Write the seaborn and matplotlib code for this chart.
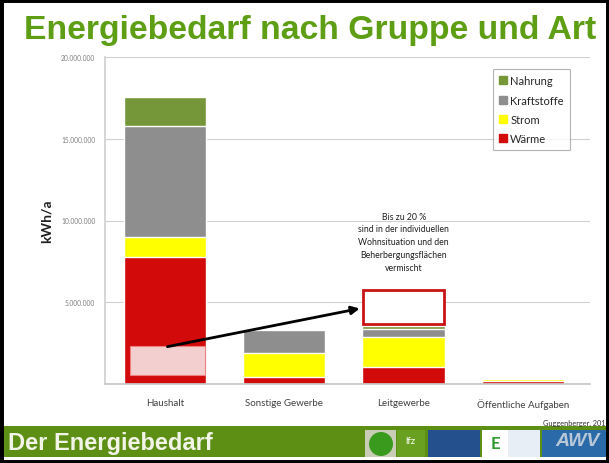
import matplotlib.pyplot as plt
import matplotlib.patches as mpatches
import seaborn as sns
import pandas as pd
import numpy as np

# data (kWh/a)
groups = ["Haushalt", "Sonstige Gewerbe", "Leitgewerbe", "Öffentliche Aufgaben"]
waerme = [7750000, 420000, 1050000, 170000]
strom = [1250000, 1480000, 1830000, 150000]
kraftstoffe = [6800000, 1400000, 480000, 20000]
nahrung = [1750000, 0, 180000, 30000]
yticks = [0, 5000000, 10000000, 15000000, 20000000]
ytick_labels = ["", "5.000.000", "10.000.000", "15.000.000", "20.000.000"]

df = pd.DataFrame({"Gruppe": groups, "Wärme": waerme, "Strom": strom,
                   "Kraftstoffe": kraftstoffe, "Nahrung": nahrung})
layers = ["Wärme", "Strom", "Kraftstoffe", "Nahrung"]
colors = {"Wärme": "#d20a0a", "Strom": "#ffff00", "Kraftstoffe": "#8e8e8e", "Nahrung": "#76963a"}
cum = df[layers].cumsum(axis=1)

sns.set_theme(style="white")
plt.rcParams["font.family"] = ["Lato", "DejaVu Sans"]

W, H = 609, 464
fig = plt.figure(figsize=(W / 100, H / 100), dpi=100)
fig.patch.set_facecolor("white")

ax = fig.add_axes([105 / W, 1 - 385 / H, 485 / W, (385 - 58) / H])

# stacked bars: draw cumulative totals from top layer down
for layer in reversed(layers):
    sns.barplot(x=df["Gruppe"], y=cum[layer], color=colors[layer], width=0.69,
                saturation=1, ax=ax, label=layer, zorder=2)

ax.set_xlim(-0.5, 3.56)
ax.set_ylim(0, 20000000)
ax.set_yticks(yticks)
ax.set_yticklabels(ytick_labels, fontsize=4.8, color="#808080")
ax.yaxis.grid(True, color="#d0d0d0", lw=0.8, zorder=0)
ax.set_axisbelow(True)
for s in ["top", "right"]:
    ax.spines[s].set_visible(False)
ax.spines["left"].set_color("#d0d0d0")
ax.spines["bottom"].set_color("#c8c8c8")
ax.tick_params(axis="x", length=0, pad=10, labelsize=7, labelcolor="#404040")
ax.tick_params(axis="y", length=0, pad=7)
ax.set_xlabel("")
ax.set_ylabel("kWh/a", fontsize=10, fontweight="bold", color="#202020", labelpad=12)
ax.yaxis.set_label_coords(-0.108, 0.5)

# legend
handles = [mpatches.Patch(color=colors[l]) for l in ["Nahrung", "Kraftstoffe", "Strom", "Wärme"]]
leg = ax.legend(handles, ["Nahrung", "Kraftstoffe", "Strom", "Wärme"], loc="upper left",
                bbox_to_anchor=(388 / 485, 0.963), fontsize=8, frameon=True, fancybox=False,
                handlelength=0.7, handleheight=0.7, handletextpad=0.3, borderpad=0.55,
                labelspacing=0.75, borderaxespad=0, edgecolor="#a0a0a0")
leg.get_frame().set_linewidth(0.8)

# highlight boxes and arrow
ax.add_patch(mpatches.Rectangle((-0.29, 550000), 0.625, 1750000, facecolor="#f3cfcf",
                                edgecolor="#f08080", lw=0.8, zorder=3))
ax.add_patch(mpatches.Rectangle((1.66, 3660000), 0.68, 2070000, facecolor="white",
                                edgecolor="#c81414", lw=2, zorder=3))
ax.annotate("", xy=(1.655, 4650000), xytext=(0.0, 2250000),
            arrowprops=dict(arrowstyle="-|>", color="black", lw=2, mutation_scale=12), zorder=4)
ax.text(2.0, 10550000, "Bis zu 20 %\nsind in der individuellen\nWohnsituation und den\n"
        "Beherbergungsflächen\nvermischt", ha="center", va="top", fontsize=6.3,
        linespacing=1.55, color="#202020")

# slide decoration
fig.text(310 / W, 1 - 31 / H, "Energiebedarf nach Gruppe und Art", ha="center", va="center",
         fontsize=24.3, fontweight="bold", color="#5e9e14", family="Liberation Sans")
fig.text(543 / W, 1 - 423 / H, "Guggenberger, 201", ha="left", va="center", fontsize=5.3,
         color="#303030")
fig.patches.append(mpatches.Rectangle((3 / W, 1 - 458 / H), 606 / W, 31 / H,
                                      transform=fig.transFigure, facecolor="#5d8f15", lw=0))
fig.text(8 / W, 1 - 444 / H, "Der Energiebedarf", ha="left", va="center", fontsize=17,
         fontweight="bold", color="#f2f4e8", family="Liberation Sans")
for x0, x1, c in [(365, 396, "#c9cdb5"), (397, 425, "#6aa020"), (428, 480, "#24508e"),
                  (482, 508, "#ffffff"), (508, 540, "#e8eef6"), (542, 609, "#2a6aa8")]:
    fig.patches.append(mpatches.Rectangle((x0 / W, 1 - 458 / H), (x1 - x0) / W, 27 / H,
                                          transform=fig.transFigure, facecolor=c, lw=0))
fig.patches.append(mpatches.Ellipse((381 / W, 1 - 445 / H), 24 / W, 24 / H,
                                    transform=fig.transFigure, facecolor="#3a9a1e", lw=0))
fig.text(410 / W, 1 - 441 / H, "lfz", fontsize=7, color="white", ha="center", va="center")
fig.text(495 / W, 1 - 444 / H, "E", fontsize=12, fontweight="bold", color="#2e9a2e",
         ha="center", va="center")
fig.text(578 / W, 1 - 442 / H, "AWV", fontsize=14, fontweight="bold", style="italic",
         color="#b8c8d8", ha="center", va="center", family="Liberation Sans")

# black slide frame
fig.patches.append(mpatches.Rectangle((0, 0), 1, 1, transform=fig.transFigure,
                                      facecolor="none", edgecolor="black", lw=5))

fig.savefig("out.png", dpi=100)
